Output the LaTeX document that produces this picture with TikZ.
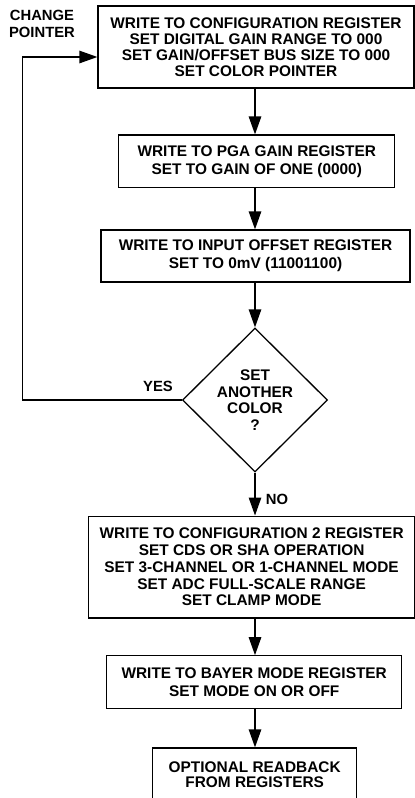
\documentclass[tikz,border=0pt]{standalone}
\usepackage{fontspec}
\setmainfont{Liberation Sans}
\usetikzlibrary{shapes.geometric,arrows.meta}
\begin{document}
\begin{tikzpicture}[x=1pt,y=-1pt,
  box/.style={draw,line width=1.3pt,align=center,inner sep=0pt},
  f16/.style={font=\fontsize{15.4}{16}\selectfont\bfseries},
  f18/.style={font=\fontsize{15.4}{18.2}\selectfont\bfseries},
  lbl/.style={align=center,inner sep=0pt,font=\fontsize{14.8}{17}\selectfont\bfseries},
  arr/.style={line width=1.3pt,-{Triangle[length=18pt,width=12.5pt]}}]
\useasboundingbox (0,0) rectangle (415,798);
\clip (0,0) rectangle (415,798);

\node[box,f16,minimum width=316pt,minimum height=82pt] (b1) at (256,47)
  {WRITE TO CONFIGURATION REGISTER\\SET DIGITAL GAIN RANGE TO 000\\SET GAIN/OFFSET BUS SIZE TO 000\\SET COLOR POINTER};
\node[box,f18,minimum width=276pt,minimum height=52.7pt] (b2) at (256.8,161.4)
  {WRITE TO PGA GAIN REGISTER\\SET TO GAIN OF ONE (0000)};
\node[box,f18,minimum width=309pt,minimum height=52pt] (b3) at (255.5,256)
  {WRITE TO INPUT OFFSET REGISTER\\SET TO 0mV (11001100)};
\node[draw,line width=1.3pt,diamond,align=center,inner sep=0pt,
  minimum width=145pt,minimum height=144pt,font=\fontsize{15.4}{16.5}\selectfont\bfseries] (dia) at (255,400)
  {SET\\ANOTHER\\COLOR\\?};
\node[box,minimum width=326pt,minimum height=101.7pt,font=\fontsize{15.4}{16.7}\selectfont\bfseries] (b4) at (251.6,567)
  {WRITE TO CONFIGURATION 2 REGISTER\\SET CDS OR SHA OPERATION\\SET 3-CHANNEL OR 1-CHANNEL MODE\\SET ADC FULL-SCALE RANGE\\SET CLAMP MODE};
\node[box,f18,minimum width=295pt,minimum height=53pt] (b5) at (254.2,682.3)
  {WRITE TO BAYER MODE REGISTER\\SET MODE ON OR OFF};
\node[box,minimum width=204pt,minimum height=53pt,font=\fontsize{15.4}{15}\selectfont\bfseries] (b6) at (254.7,774.5)
  {OPTIONAL READBACK\\FROM REGISTERS};

\node[lbl] (cp) at (42,24) {CHANGE\\POINTER};
\node[lbl] (yes) at (158,386) {YES};
\node[lbl] (no) at (277,499) {NO};

\coordinate (col) at (255,0);
\coordinate (lp) at (22.3,57);
\draw[arr] (b1.south -| col) -- (b2.north -| col);
\draw[arr] (b2.south -| col) -- (b3.north -| col);
\draw[arr] (b3.south -| col) -- (dia.north);
\draw[arr] (dia.south) -- (b4.north -| col);
\draw[arr] (b4.south -| col) -- (b5.north -| col);
\draw[arr] (b5.south -| col) -- (b6.north -| col);
\draw[arr] (dia.west) -| (lp) -- (lp -| b1.west);
\end{tikzpicture}
\end{document}
